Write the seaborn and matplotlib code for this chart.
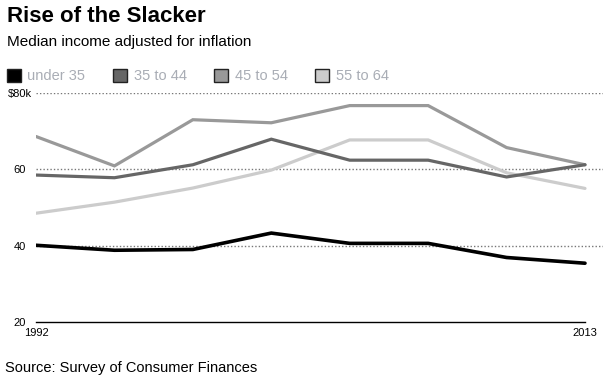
import pandas as pd
import matplotlib.pyplot as plt
import seaborn as sns
from matplotlib.patches import Patch

# Survey of Consumer Finances years
years = [1992, 1995, 1998, 2001, 2004, 2007, 2010, 2013]

# Median income (thousands, inflation adjusted)
under_35 = [40.1, 38.8, 39.0, 43.3, 40.6, 40.6, 36.9, 35.4]
age_35_44 = [58.5, 57.8, 61.2, 67.9, 62.4, 62.4, 58.0, 61.2]
age_45_54 = [68.6, 60.9, 73.0, 72.2, 76.7, 76.7, 65.7, 61.2]
age_55_64 = [48.5, 51.4, 55.1, 59.8, 67.7, 67.7, 59.1, 55.0]

groups = ['under 35', '35 to 44', '45 to 54', '55 to 64']
colors = ['#000000', '#666666', '#999999', '#cccccc']
ytick_vals = [20, 40, 60, 80]
ytick_labels = ['20', '40', '60', '$80k']

# long format for seaborn
df = pd.DataFrame({
    'year': years * 4,
    'income': under_35 + age_35_44 + age_45_54 + age_55_64,
    'group': [g for g in groups for _ in years],
})

sns.set_style('white')
plt.rcParams['font.family'] = ['Liberation Sans', 'DejaVu Sans']
plt.rcParams['text.color'] = 'black'
plt.rcParams['xtick.color'] = 'black'
plt.rcParams['ytick.color'] = 'black'

fig = plt.figure(figsize=(6.14, 3.8), dpi=100)
ax = fig.add_axes([36 / 614, 58 / 380, 567 / 614, 229 / 380])

# gridlines first so the lines sit on top
for v in ytick_vals[1:]:
    ax.axhline(v, color='#777777', lw=1, ls=(0, (1, 1.5)), zorder=1)

# draw back to front: light lines first, black on top
for g, c in reversed(list(zip(groups, colors))):
    sub = df[df['group'] == g]
    sns.lineplot(data=sub, x='year', y='income', color=c,
                 lw=2.6 if g == 'under 35' else 2.3, ax=ax, zorder=3,
                 solid_joinstyle='miter', legend=False)

ax.set_xlim(1992, 2013 + 18 / (549 / 21))
ax.set_ylim(20, 80)
ax.set_xlabel('')
ax.set_ylabel('')

for s in ['top', 'right', 'left']:
    ax.spines[s].set_visible(False)
ax.spines['bottom'].set_bounds(1992, 2013)
ax.spines['bottom'].set_color('black')
ax.spines['bottom'].set_linewidth(1)

ax.set_xticks([1992, 2013])
ax.set_xticklabels(['1992', '2013'], fontsize=8)
ax.tick_params(axis='x', direction='out', length=3.5, width=1, color='black', pad=1)

ax.set_yticks(ytick_vals)
ax.set_yticklabels(ytick_labels, fontsize=8)
ax.tick_params(axis='y', length=0, pad=11.5)
for lbl in ax.get_yticklabels():
    lbl.set_horizontalalignment('center')

# legend with square swatches
handles = [Patch(facecolor=c, edgecolor='#222222', lw=1) for c in colors]
fig.legend(handles, groups, loc='upper left', bbox_to_anchor=(7 / 614, 1 - 69 / 380),
           ncol=4, frameon=False, fontsize=10.5, labelcolor='#a9adb5',
           handlelength=0.95, handleheight=0.95, handletextpad=0.45,
           columnspacing=1.9, borderaxespad=0, borderpad=0)

fig.text(7 / 614, 1 - 6 / 380, 'Rise of the Slacker', fontsize=16, fontweight='bold',
         va='top', ha='left')
fig.text(7 / 614, 1 - 35 / 380, 'Median income adjusted for inflation', fontsize=11,
         va='top', ha='left')
fig.text(5 / 614, 1 - 361 / 380, 'Source: Survey of Consumer Finances', fontsize=10.5,
         va='top', ha='left')

fig.savefig('out.png', dpi=100)
